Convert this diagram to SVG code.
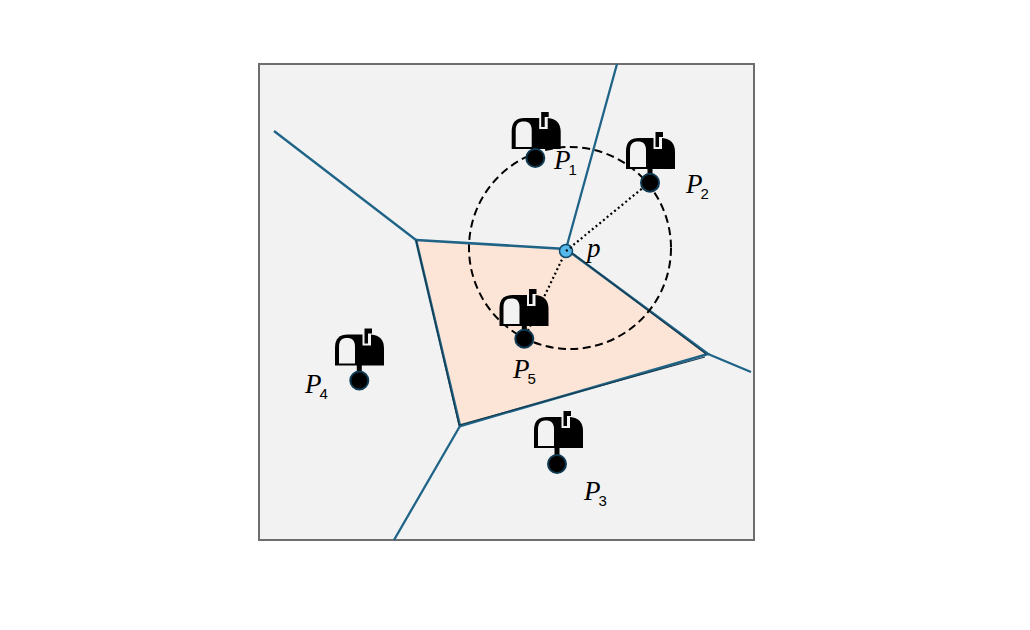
<svg xmlns="http://www.w3.org/2000/svg" width="1030" height="630" viewBox="0 0 1030 630">
<style>
.edge{fill:none;stroke:#1f6487;stroke-width:2.3}
.cell{fill:none;stroke:#1f6487;stroke-width:2.6}
.cellk{fill:none;stroke:#163a4e;stroke-width:1.2}
.dash{fill:none;stroke:#000;stroke-width:2;stroke-dasharray:8 4.5}
.dot{fill:none;stroke:#000;stroke-width:2.2;stroke-dasharray:2 2.8}
.site{fill:#000;stroke:#0f3a52;stroke-width:2}
.stem{stroke:#000;stroke-width:5}
.lab{font-family:"Liberation Serif","DejaVu Serif",serif;font-style:italic;font-size:27px;fill:#000}
.sub{font-family:"Liberation Sans","DejaVu Sans",sans-serif;font-style:normal;font-size:15px}
</style>
<defs>
<g id="box">
<path d="M0,31 V13 Q0,0 13,0 H36 Q49,1 49,14 V31 Z" fill="#000"/>
<path d="M4,29 V12 C4,6 7,3.5 12,3.5 C17,3.5 20,6 20,12 V29 Z" fill="#f2f2f2"/>
<path d="M27.5,-1 H36 V11 H27.5 Z" fill="#f2f2f2"/>
<path d="M29.5,-6 H37 V-1 H33 V9 H29.5 Z" fill="#000"/>
</g>
</defs>
<rect width="1030" height="630" fill="#fff"/>
<rect x="259" y="64" width="495" height="476" fill="#f2f2f2" stroke="#6e6e6e" stroke-width="2"/>
<polygon points="416,240 566,249 708,354 460,426" fill="#fce4d6"/>
<g id="connectors">
<path class="edge" d="M617,64 L566,249 M274,131 L416,240 M460,426 L394,540 M708,354 L751,372"/>
<polygon class="cell" points="416,240 566,249 708,354 460,426"/>
<path class="cellk" d="M416,240 L459,425 L705,357 M568,250 L706,354"/>
<circle class="dash" cx="570" cy="248" r="101"/>
<path class="dot" d="M566,251 L650,182 M566,251 L524,339"/>
</g>
<g id="P1">
<use href="#box" x="511.7" y="118"/>
<circle class="site" cx="535.3" cy="158" r="9"/>
<text class="lab" x="554" y="169">P<tspan class="sub" dx="-2" dy="6">1</tspan></text>
</g>
<g id="P2">
<use href="#box" x="626" y="138"/>
<line class="stem" x1="650" y1="168" x2="650" y2="178"/>
<circle class="site" cx="650" cy="182.7" r="9"/>
<text class="lab" x="686" y="193">P<tspan class="sub" dx="-2" dy="6">2</tspan></text>
</g>
<g id="P3">
<use href="#box" x="534" y="417"/>
<line class="stem" x1="557" y1="447" x2="557" y2="458"/>
<circle class="site" cx="557" cy="464" r="9"/>
<text class="lab" x="584" y="500">P<tspan class="sub" dx="-2" dy="6">3</tspan></text>
</g>
<g id="P4">
<use href="#box" x="335" y="334.5"/>
<line class="stem" x1="359.3" y1="365" x2="359.3" y2="375"/>
<circle class="site" cx="359.3" cy="380.5" r="9"/>
<text class="lab" x="305" y="393">P<tspan class="sub" dx="-2" dy="6">4</tspan></text>
</g>
<g id="P5">
<use href="#box" x="499.5" y="295"/>
<line class="stem" x1="524.3" y1="325" x2="524.3" y2="334"/>
<circle class="site" cx="524.3" cy="338.7" r="9"/>
<text class="lab" x="513" y="378">P<tspan class="sub" dx="-2" dy="6">5</tspan></text>
</g>
<g id="p">
<circle cx="566" cy="251" r="6.5" fill="#56b8ea" stroke="#0f4a6b" stroke-width="1.5"/>
<path class="dot" d="M566,251 L573,246" />
<text class="lab" x="587" y="257">p</text>
</g>
</svg>
